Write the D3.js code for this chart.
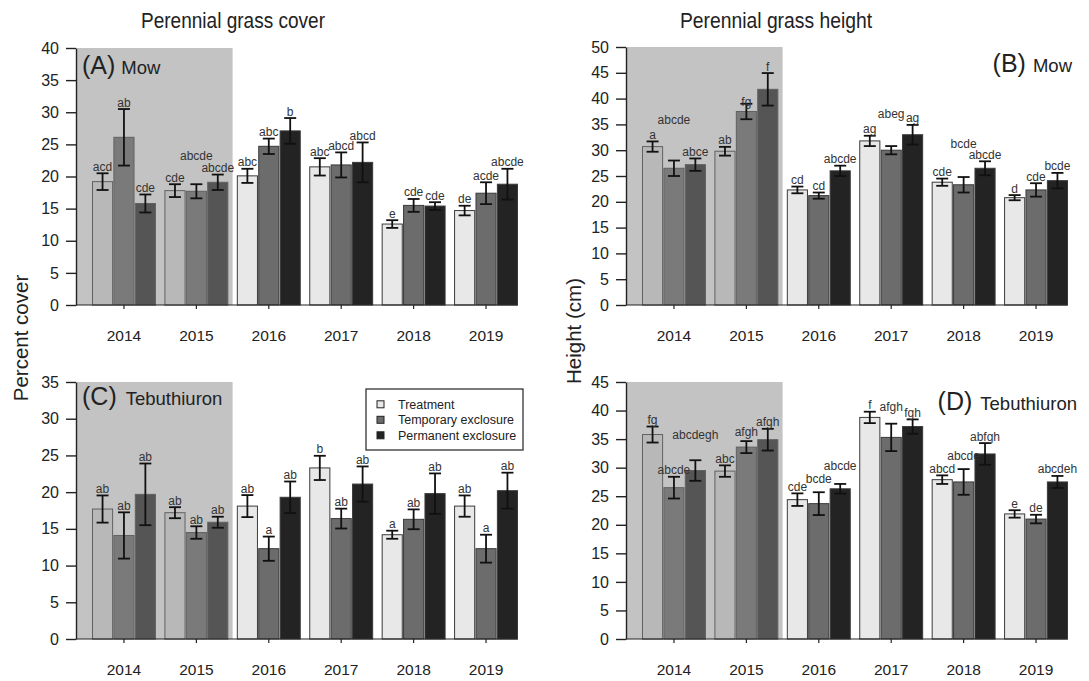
<!DOCTYPE html>
<html>
<head>
<meta charset="utf-8">
<script src="https://cdn.jsdelivr.net/npm/d3@7"></script>
<style>
  body { margin: 0; background: #fff; }
  svg { display: block; font-family: "Liberation Sans", Arial, Helvetica, sans-serif; }
</style>
</head>
<body>
<svg id="chart" width="1089" height="681"></svg>
<script>
// Survey years and exclosure treatments
const years = ["2014", "2015", "2016", "2017", "2018", "2019"];
const series = ["Treatment", "Temporary exclosure", "Permanent exclosure"];
const seriesColors = ["#e8e8e8", "#6c6c6c", "#232323"];
// Years before treatment began (shaded)
const pretreatmentYears = ["2014", "2015"];

// (A) Mow - perennial grass cover (%), mean and SE per year [Treatment, Temporary, Permanent]
const coverMowMean = [[19.2, 26.1, 15.8], [17.8, 17.7, 19.1], [20.1, 24.7, 27.1], [21.5, 21.8, 22.2], [12.6, 15.5, 15.4], [14.7, 17.4, 18.8]];
const coverMowSE = [[1.3, 4.4, 1.4], [1.0, 1.1, 1.2], [1.1, 1.2, 2.0], [1.35, 1.95, 3.1], [0.6, 1.0, 0.6], [0.75, 1.7, 2.4]];
const coverMowLetters = [["acd", "ab", "cde"], ["cde", "abcde", "abcde"], ["abc", "abc", "b"], ["abc", "abcd", "abcd"], ["e", "cde", "cde"], ["de", "acde", "abcde"]];

// (B) Mow - perennial grass height (cm)
const heightMowMean = [[30.7, 26.5, 27.2], [29.8, 37.5, 41.8], [22.3, 21.2, 26.0], [31.8, 30.0, 33.0], [23.8, 23.3, 26.5], [20.8, 22.3, 24.1]];
const heightMowSE = [[1.0, 1.5, 1.2], [0.85, 1.5, 3.15], [0.65, 0.6, 1.0], [1.0, 0.8, 1.9], [0.7, 1.5, 1.35], [0.5, 1.3, 1.5]];
const heightMowLetters = [["a", "abcde", "abce"], ["ab", "fg", "f"], ["cd", "cd", "abcde"], ["ag", "abeg", "ag"], ["cde", "bcde", "abcde"], ["d", "cde", "bcde"]];

// (C) Tebuthiuron - perennial grass cover (%)
const coverTebMean = [[17.7, 14.1, 19.7], [17.2, 14.5, 15.9], [18.1, 12.3, 19.3], [23.3, 16.4, 21.1], [14.2, 16.3, 19.8], [18.1, 12.3, 20.2]];
const coverTebSE = [[1.85, 3.15, 4.2], [0.75, 0.85, 0.75], [1.5, 1.65, 2.15], [1.65, 1.35, 2.4], [0.55, 1.35, 2.75], [1.45, 1.9, 2.45]];
const coverTebLetters = [["ab", "ab", "ab"], ["ab", "ab", "ab"], ["ab", "a", "ab"], ["b", "ab", "ab"], ["a", "ab", "ab"], ["ab", "a", "ab"]];

// (D) Tebuthiuron - perennial grass height (cm)
const heightTebMean = [[35.8, 26.5, 29.5], [29.4, 33.6, 34.9], [24.4, 23.7, 26.3], [38.8, 35.3, 37.2], [27.9, 27.5, 32.4], [21.9, 21.0, 27.5]];
const heightTebSE = [[1.4, 1.9, 1.8], [1.0, 1.05, 1.9], [1.1, 2.0, 0.85], [1.0, 2.4, 1.25], [0.75, 2.25, 1.9], [0.65, 0.75, 1.05]];
const heightTebLetters = [["fg", "abcde", "abcdegh"], ["abc", "afgh", "afgh"], ["cde", "bcde", "abcde"], ["f", "afgh", "fgh"], ["abcd", "abcde", "abfgh"], ["e", "de", "abcdeh"]];

// Vertical nudges (px) for letter labels that would otherwise collide
const labelNudges = {
  A: { "2015-1": -22 },
  B: { "2014-1": -34, "2015-1": 5, "2017-1": -26, "2018-1": -27 },
  C: {},
  D: { "2014-2": -19, "2015-1": -3, "2016-1": -7, "2016-2": -11, "2017-1": -10, "2018-1": -7 }
};

const panels = [
  { key: "A", mean: coverMowMean, se: coverMowSE, letters: coverMowLetters, ymax: 40,
    left: 76, top: 48, bottom: 305, tag: "(A)", name: "Mow", tagX: 82, tagY: 74, anchor: "start", gap: 6 },
  { key: "B", mean: heightMowMean, se: heightMowSE, letters: heightMowLetters, ymax: 50,
    left: 626, top: 47, bottom: 305, tag: "(B)", name: "Mow", tagX: 1072, tagY: 72, anchor: "end", gap: 7 },
  { key: "C", mean: coverTebMean, se: coverTebSE, letters: coverTebLetters, ymax: 35,
    left: 76, top: 382, bottom: 639, tag: "(C)", name: "Tebuthiuron", tagX: 82, tagY: 405, anchor: "start", gap: 9 },
  { key: "D", mean: heightTebMean, se: heightTebSE, letters: heightTebLetters, ymax: 45,
    left: 626, top: 382, bottom: 639, tag: "(D)", name: "Tebuthiuron", tagX: 1077, tagY: 410, anchor: "end", gap: 8 }
];

const svg = d3.select("#chart");
const ink = "#222";

panels.forEach(p => {
  const g = svg.append("g");

  const x = d3.scaleBand()
    .domain(years)
    .range([p.left + 11.75, p.left + 11.75 + 434.5])
    .paddingInner(0.131)
    .paddingOuter(0.0655);
  const xs = d3.scaleBand()
    .domain(series)
    .range([0, x.bandwidth()])
    .paddingInner(0.06);
  const y = d3.scaleLinear().domain([0, p.ymax]).range([p.bottom, p.top]);

  const rows = [];
  years.forEach((yr, i) => {
    series.forEach((s, j) => {
      rows.push({ year: yr, series: s, j, mean: p.mean[i][j], se: p.se[i][j], letter: p.letters[i][j],
                  nudge: labelNudges[p.key][`${yr}-${j}`] || 0 });
    });
  });

  // bars
  g.append("g").selectAll("rect")
    .data(rows)
    .join("rect")
    .attr("x", d => x(d.year) + xs(d.series))
    .attr("y", d => y(d.mean))
    .attr("width", xs.bandwidth())
    .attr("height", d => y(0) - y(d.mean))
    .attr("fill", d => seriesColors[d.j])
    .attr("stroke", "#3a3a3a")
    .attr("stroke-width", 1);

  // translucent shading over the pre-treatment years
  const shadeEnd = x(years[pretreatmentYears.length]) - x.step() * x.paddingInner() / 2;
  g.append("rect")
    .attr("x", p.left + 1)
    .attr("y", y(p.ymax))
    .attr("width", shadeEnd - p.left - 1)
    .attr("height", y(0) - y(p.ymax))
    .attr("fill", "#888")
    .attr("fill-opacity", 0.5);

  // error bars
  const eb = g.append("g").attr("stroke", "#111").attr("stroke-width", 1.8);
  const cx = d => x(d.year) + xs(d.series) + xs.bandwidth() / 2;
  const capW = 6;
  eb.selectAll("line.v").data(rows).join("line").attr("class", "v")
    .attr("x1", cx).attr("x2", cx)
    .attr("y1", d => y(d.mean - d.se)).attr("y2", d => y(d.mean + d.se));
  eb.selectAll("line.t").data(rows).join("line").attr("class", "t")
    .attr("x1", d => cx(d) - capW).attr("x2", d => cx(d) + capW)
    .attr("y1", d => y(d.mean + d.se)).attr("y2", d => y(d.mean + d.se));
  eb.selectAll("line.b").data(rows).join("line").attr("class", "b")
    .attr("x1", d => cx(d) - capW).attr("x2", d => cx(d) + capW)
    .attr("y1", d => y(d.mean - d.se)).attr("y2", d => y(d.mean - d.se));

  // significance letters
  g.append("g").selectAll("text")
    .data(rows)
    .join("text")
    .attr("x", cx)
    .attr("y", d => y(d.mean + d.se) - 2.5 + d.nudge)
    .attr("text-anchor", "middle")
    .attr("font-size", 12)
    .attr("fill", "#333")
    .text(d => d.letter);

  // y axis
  const yAxis = g.append("g")
    .attr("transform", `translate(${p.left},0)`)
    .call(d3.axisLeft(y).tickValues(d3.range(0, p.ymax + 1, 5)).tickSize(10).tickPadding(7).tickSizeOuter(0));
  yAxis.select(".domain").attr("stroke", ink).attr("stroke-width", 1.4);
  yAxis.selectAll(".tick line").attr("stroke", ink).attr("stroke-width", 1.4);
  yAxis.selectAll(".tick text").attr("font-size", 16).attr("fill", ink).attr("font-family", null);

  // x axis: baseline up to the last bar, ticks at group centres
  const lastBarEnd = x(years[years.length - 1]) + x.bandwidth();
  g.append("line")
    .attr("x1", p.left).attr("x2", lastBarEnd)
    .attr("y1", y(0)).attr("y2", y(0))
    .attr("stroke", ink).attr("stroke-width", 1.2);
  const xAxis = g.append("g")
    .attr("transform", `translate(0,${y(0)})`)
    .call(d3.axisBottom(x).tickSize(4).tickPadding(21));
  xAxis.select(".domain").remove();
  xAxis.selectAll(".tick line").attr("stroke", ink).attr("stroke-width", 1.2);
  xAxis.selectAll(".tick text").attr("font-size", 15.5).attr("fill", ink).attr("font-family", null);

  // panel tag
  const tag = g.append("text")
    .attr("x", p.tagX).attr("y", p.tagY)
    .attr("text-anchor", p.anchor)
    .attr("fill", ink);
  tag.append("tspan").attr("font-size", 25).text(p.tag);
  tag.append("tspan").attr("font-size", 18.5).attr("dx", p.gap).text(p.name);
});

// column titles
svg.append("text").attr("x", 233).attr("y", 28).attr("text-anchor", "middle")
  .attr("font-size", 21.5).attr("textLength", 184).attr("lengthAdjust", "spacingAndGlyphs")
  .attr("fill", ink).text("Perennial grass cover");
svg.append("text").attr("x", 776).attr("y", 28).attr("text-anchor", "middle")
  .attr("font-size", 21.5).attr("textLength", 192).attr("lengthAdjust", "spacingAndGlyphs")
  .attr("fill", ink).text("Perennial grass height");

// y-axis titles
svg.append("text").attr("transform", "translate(28,338) rotate(-90)")
  .attr("text-anchor", "middle").attr("font-size", 20.5).attr("fill", ink).text("Percent cover");
svg.append("text").attr("transform", "translate(581,331) rotate(-90)")
  .attr("text-anchor", "middle").attr("font-size", 20.5).attr("fill", ink).text("Height (cm)");

// legend
const legend = svg.append("g").attr("transform", "translate(366,389)");
legend.append("rect")
  .attr("width", 157).attr("height", 61)
  .attr("fill", "#fff").attr("stroke", "#333").attr("stroke-width", 1.3);
series.forEach((s, i) => {
  const row = legend.append("g").attr("transform", `translate(11,${15.3 + i * 15.5})`);
  row.append("rect").attr("x", 0).attr("y", -3.5).attr("width", 7).attr("height", 7)
    .attr("fill", seriesColors[i]).attr("stroke", "#222").attr("stroke-width", 1);
  row.append("text").attr("x", 21).attr("y", 4.3)
    .attr("font-size", 12.5).attr("fill", ink).text(s);
});
</script>
</body>
</html>
